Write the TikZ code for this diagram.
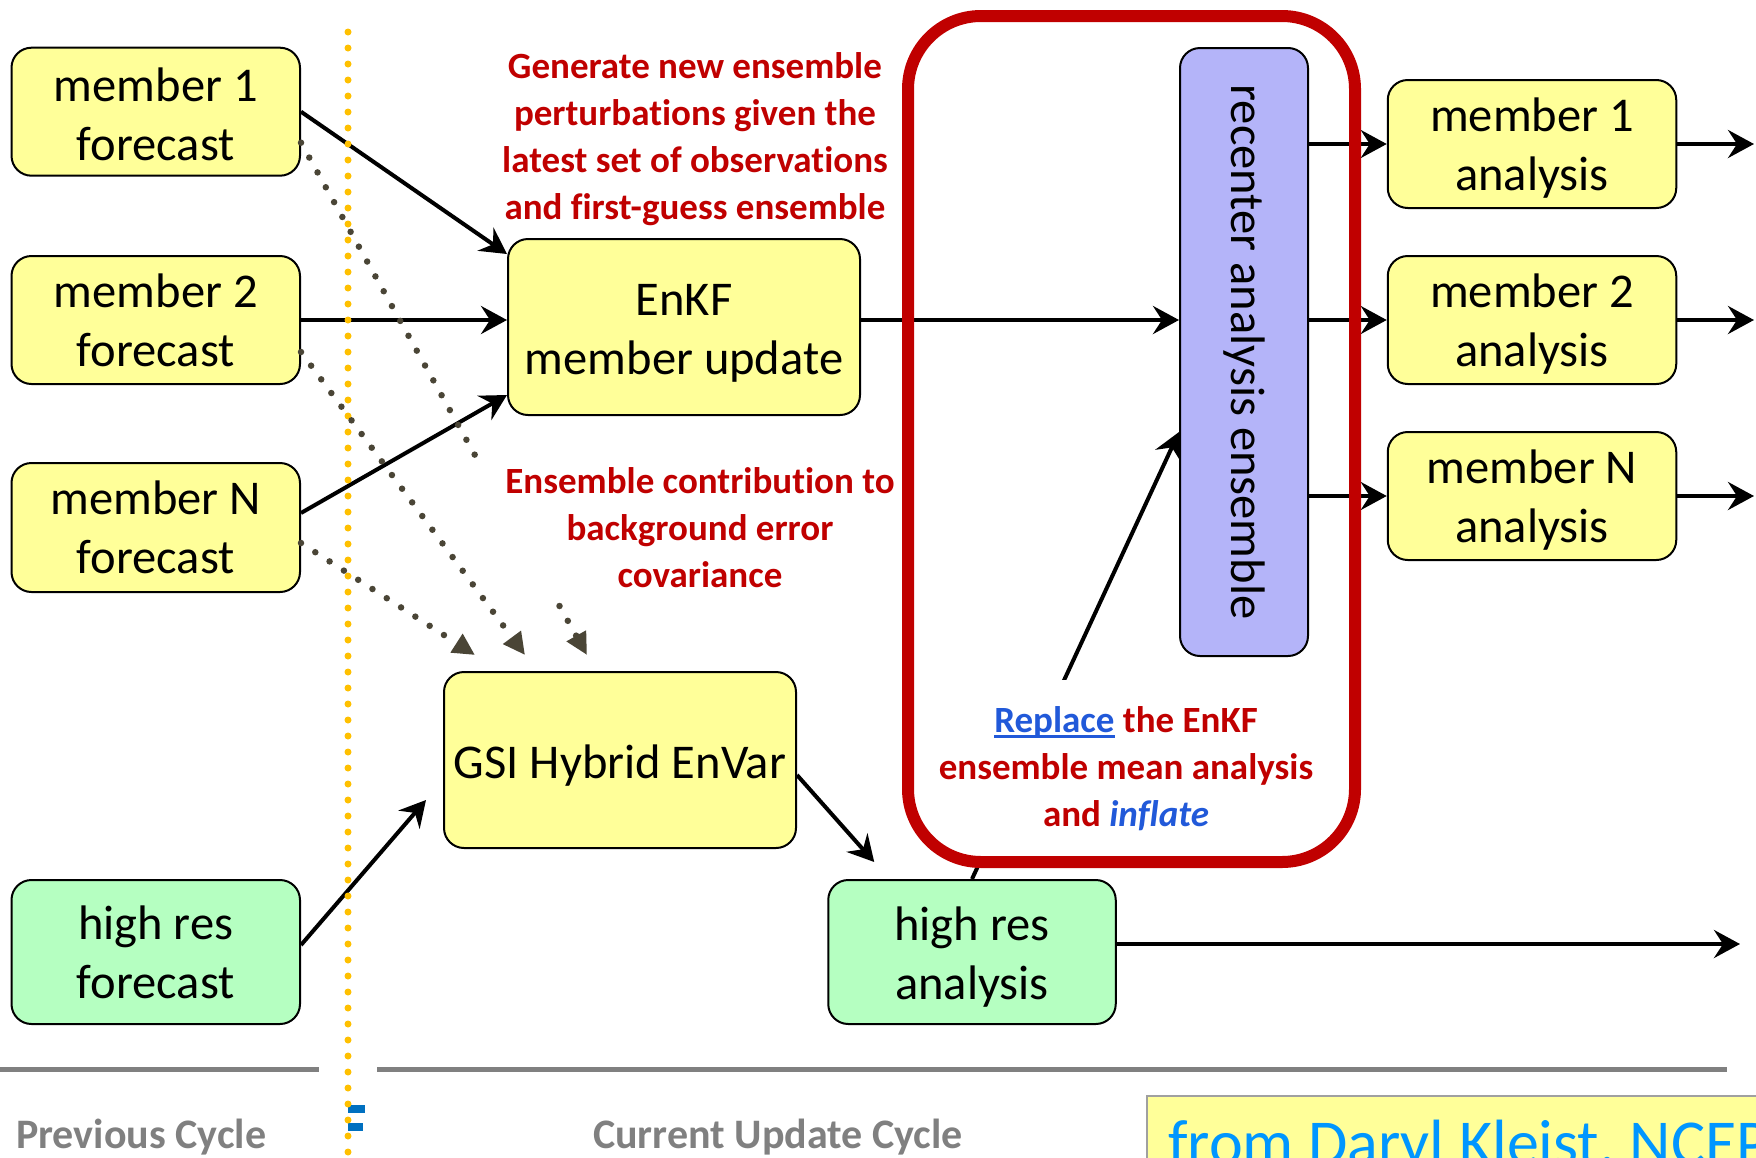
\documentclass[tikz,border=0pt]{standalone}
\usepackage{fontspec}
\setmainfont{Carlito}[Ligatures=NoCommon]
\usetikzlibrary{arrows.meta}
\definecolor{boxyellow}{HTML}{FFFF99}
\definecolor{boxgreen}{HTML}{B5FFC1}
\definecolor{boxblue}{HTML}{B4B4F9}
\definecolor{redline}{HTML}{C00000}
\definecolor{txtblue}{HTML}{2159D9}
\definecolor{dotdark}{HTML}{4A4536}
\definecolor{dotyellow}{HTML}{FFC000}
\definecolor{creditblue}{HTML}{0096FF}
\definecolor{creditborder}{HTML}{A0A0A0}
\definecolor{sepgray}{HTML}{808080}
\definecolor{markblue}{HTML}{0070C0}
\newcommand\ulword[1]{\setbox0\hbox{#1}\rlap{\rule[-5pt]{\wd0}{2.5pt}}\box0}
\newcommand\lift[1]{\rule{0pt}{#1}}
\begin{document}
\begin{tikzpicture}[x=1pt,y=-1pt,
  cellbox/.style={draw=black, line width=2pt, rounded corners=20pt, align=center, inner sep=0pt,
    font=\fontsize{48.5}{59}\selectfont},
  yellowcell/.style={cellbox, fill=boxyellow},
  greencell/.style={cellbox, fill=boxgreen},
  arr/.style={line width=4pt, -{Stealth[length=26pt, width=28pt, inset=9pt]}},
  dotarr/.style={dotdark, line width=6.5pt, line cap=round, dash pattern=on 0pt off 17pt,
    -{Triangle[length=22pt, width=21pt]}},
  dotline/.style={dotdark, line width=6.5pt, line cap=round, dash pattern=on 0pt off 17pt},
  redlbl/.style={text=redline, font=\fontsize{37}{47}\selectfont\bfseries, align=center, inner sep=0pt},
  graylbl/.style={text=sepgray, font=\fontsize{42}{50}\selectfont\bfseries, inner sep=0pt, anchor=base west},
  sepline/.style={sepgray, line width=5pt}
]
\useasboundingbox (0,0) rectangle (1756,1157);

% separator lines
\draw[sepline] (0,1069) -- (319,1069);
\draw[sepline] (377,1069) -- (1727,1069);

% forecast boxes
\node[yellowcell, minimum width=288.5pt, minimum height=128pt] (m1f) at (155.75,111.7) {\lift{39.5pt}member 1\\forecast};
\node[yellowcell, minimum width=288.5pt, minimum height=128pt] (m2f) at (155.75,320) {member 2\\forecast};
\node[yellowcell, minimum width=288.5pt, minimum height=129pt] (mNf) at (155.75,527.5) {member N\\forecast};
\node[greencell, minimum width=288.5pt, minimum height=144pt] (hrf) at (155.75,952) {high res\\forecast};

% central boxes
\node[yellowcell, minimum width=352pt, minimum height=176pt] (enkf) at (684,327) {\lift{43pt}EnKF\\member update};
\node[yellowcell, minimum width=352pt, minimum height=176pt] (gsi) at (620,760) {\lift{45.5pt}GSI Hybrid EnVar};
\node[greencell, minimum width=287.5pt, minimum height=144pt] (hra) at (972,952) {\lift{43.5pt}high res\\analysis};
\node[cellbox, fill=boxblue, minimum width=128pt, minimum height=608pt] (rec) at (1244,352) {\rotatebox{-90}{recenter analysis ensemble}};

% analysis boxes
\node[yellowcell, minimum width=288.5pt, minimum height=128pt] (ma1) at (1532,144) {\lift{41.5pt}member 1\\analysis};
\node[yellowcell, minimum width=288.5pt, minimum height=128pt] (ma2) at (1532,320) {\lift{41.5pt}member 2\\analysis};
\node[yellowcell, minimum width=288.5pt, minimum height=128pt] (maN) at (1532,496) {\lift{41.5pt}member N\\analysis};

% labels
\node[redlbl] (genlbl) at (695,139) {Generate new ensemble\\perturbations given the\\latest set of observations\\and first-guess ensemble};
\node[redlbl] (contriblbl) at (700,528) {Ensemble contribution to\\background error\\covariance};

% coordinates
\coordinate (e2) at ([yshift=7pt]enkf.east);
\coordinate (h2) at ([yshift=8pt]hra.east);
\coordinate (o1) at (1754,144);
\coordinate (o2) at (1754,320);
\coordinate (oN) at (1754,496);
\coordinate (oh) at (1740,944);
\coordinate (gsitip) at ([xshift=-17pt,yshift=-40pt]gsi.west);
\coordinate (hratip) at ([xshift=47pt,yshift=17pt]hra.north west);
\coordinate (d1a) at (476,457);
\coordinate (d1b) at (559.5,606);
\coordinate (d1tip) at (587,655);
\coordinate (d2tip) at (525,655);
\coordinate (dNtip) at (475,655);

% solid arrows
\draw[arr] (m1f.east) -- ([yshift=-16pt]enkf.north west);
\draw[arr] (m2f.east) -- (m2f.east -| enkf.west);
\draw[arr] ([yshift=14.5pt]mNf.east) -- ([yshift=21pt]enkf.south west);
\draw[arr] ([yshift=7pt]hrf.east) -- (gsitip);
\draw[arr] ([yshift=-15pt]gsi.east) -- (hratip);
\draw[arr] (e2) -- (e2 -| rec.west);
\draw[arr] (ma1.west -| rec.east) -- (ma1.west);
\draw[arr] (ma2.west -| rec.east) -- (ma2.west);
\draw[arr] (maN.west -| rec.east) -- (maN.west);
\draw[arr] (ma1.east) -- (o1);
\draw[arr] (ma2.east) -- (o2);
\draw[arr] (maN.east) -- (oN);
\draw[arr] (h2) -- (oh);
\draw[arr] (hra.north) -- ([yshift=-80pt]rec.west);

% label over the recenter arrow
\node[redlbl, fill=white, minimum height=178pt, minimum width=390pt] (replbl) at (1126,769)
  {{\color{txtblue}\ulword{Replace}} the EnKF\\ensemble mean analysis\\and {\color{txtblue}\itshape inflate}};

% focus frame
\node[draw=redline, line width=12pt, rounded corners=73pt, minimum width=447pt, minimum height=846pt, inner sep=0pt] (focus) at (1131.5,439) {};

% small blue marks
\fill[markblue] (348,1105) rectangle (365,1113);
\fill[markblue] (348,1123) rectangle (363,1131);

% cycle separator
\draw[dotyellow, line width=7pt, line cap=round, dash pattern=on 0pt off 16pt] (348,32) -- (348,1170);

% dotted ensemble arrows
\draw[dotline] ([yshift=-31pt]m1f.east) -- (d1a);
\draw[dotarr] (d1b) -- (d1tip);
\draw[dotarr] ([yshift=-32pt]m2f.east) -- (d2tip);
\draw[dotarr] ([yshift=-15.5pt]mNf.east) -- (dNtip);

% bottom labels
\node[graylbl] (prevlbl) at (16,1148) {Previous Cycle};
\node[graylbl] (curlbl) at (593,1148) {Current Update Cycle};

% credit
\node[fill=boxyellow, draw=creditborder, line width=1.5pt, anchor=north west, minimum width=700pt, minimum height=120pt, inner sep=0pt] (creditbox) at (1146,1095) {};
\node[anchor=base west, inner sep=0pt, text=creditblue, font=\fontsize{64}{77}\selectfont] (credittxt) at (1168,1164) {from Daryl Kleist, NCEP};
\end{tikzpicture}
\end{document}
